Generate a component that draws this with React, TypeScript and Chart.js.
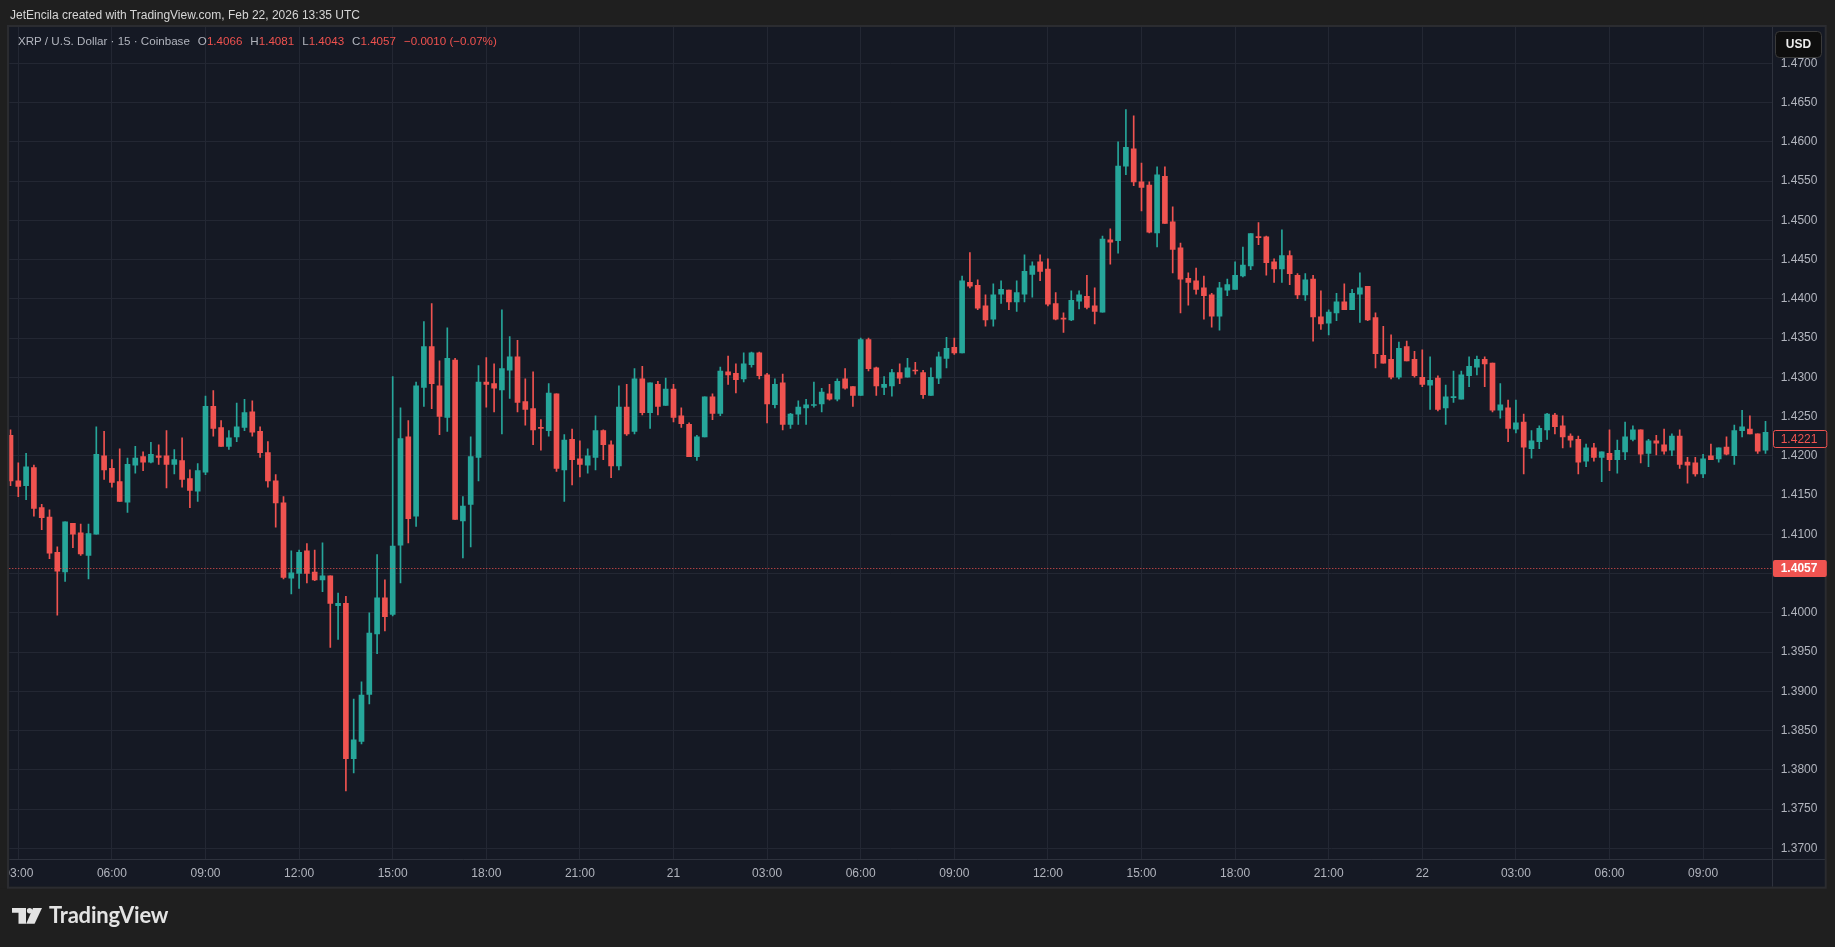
import React, { useEffect, useRef } from "react";
import { Chart, registerables } from "chart.js";

Chart.register(...registerables);

// ---------------- data (15-minute XRP/USD candles, Coinbase) ----------------
// bar index 0 = Feb 20 03:00 UTC, one index per 15 minutes; first bar is 02:45
const FIRST_BAR = -1;

const opens = [
  1.4226, 1.4168, 1.4162, 1.4185, 1.4134, 1.4122, 1.4077, 1.4052, 1.4114, 1.4102, 1.4073, 1.4100, 1.4200, 1.4184, 1.4167, 1.4141,
  1.4188, 1.4199, 1.4192, 1.4200, 1.4200, 1.4189, 1.4194, 1.4171, 1.4155, 1.4179, 1.4263, 1.4236, 1.4212, 1.4224, 1.4236, 1.4256,
  1.4231, 1.4204, 1.4168, 1.4140, 1.4044, 1.4050, 1.4079, 1.4052, 1.4042, 1.4047, 1.4009, 1.4012, 1.3814, 1.3836, 1.3896, 1.3973,
  1.4019, 1.3998, 1.4086, 1.4224, 1.4123, 1.4287, 1.4339, 1.4289, 1.4249, 1.4322, 1.4117, 1.4138, 1.4198, 1.4294, 1.4292, 1.4284,
  1.4309, 1.4326, 1.4269, 1.4260, 1.4236, 1.4232, 1.4279, 1.4182, 1.4221, 1.4196, 1.4188, 1.4198, 1.4232, 1.4214, 1.4187, 1.4262,
  1.4231, 1.4298, 1.4255, 1.4291, 1.4264, 1.4285, 1.4251, 1.4240, 1.4199, 1.4224, 1.4275, 1.4254, 1.4307, 1.4305, 1.4298, 1.4316,
  1.4331, 1.4303, 1.4265, 1.4293, 1.4240, 1.4253, 1.4261, 1.4264, 1.4266, 1.4279, 1.4272, 1.4298, 1.4288, 1.4277, 1.4348, 1.4312,
  1.4287, 1.4289, 1.4306, 1.4300, 1.4309, 1.4306, 1.4277, 1.4299, 1.4324, 1.4338, 1.4331, 1.4421, 1.4417, 1.4391, 1.4374, 1.4406,
  1.4411, 1.4396, 1.4406, 1.4431, 1.4447, 1.4438, 1.4394, 1.4375, 1.4373, 1.4397, 1.4403, 1.4391, 1.4383, 1.4475, 1.4474, 1.4569,
  1.4591, 1.4549, 1.4545, 1.4484, 1.4556, 1.4498, 1.4465, 1.4426, 1.4423, 1.4414, 1.4405, 1.4378, 1.4411, 1.4412, 1.4429, 1.4442,
  1.4479, 1.4479, 1.4447, 1.4438, 1.4455, 1.4430, 1.4405, 1.4425, 1.4377, 1.4369, 1.4382, 1.4396, 1.4386, 1.4406, 1.4416, 1.4376,
  1.4328, 1.4323, 1.4300, 1.4339, 1.4323, 1.4300, 1.4290, 1.4299, 1.4261, 1.4274, 1.4272, 1.4302, 1.4313, 1.4323, 1.4318, 1.4258,
  1.4261, 1.4234, 1.4243, 1.4209, 1.4218, 1.4233, 1.4252, 1.4238, 1.4225, 1.4221, 1.4193, 1.4210, 1.4198, 1.4203, 1.4195, 1.4205,
  1.4221, 1.4233, 1.4203, 1.4219, 1.4214, 1.4207, 1.4225, 1.4192, 1.4191, 1.4177, 1.4200, 1.4196, 1.4211, 1.4200, 1.4232, 1.4234,
  1.4228, 1.4207,
];

const highs = [
  1.4233, 1.4191, 1.4203, 1.4188, 1.4138, 1.4131, 1.4084, 1.4116, 1.4114, 1.4113, 1.4113, 1.4237, 1.4231, 1.4195, 1.4209, 1.4197,
  1.4212, 1.4205, 1.4217, 1.4214, 1.4232, 1.4208, 1.4223, 1.4182, 1.4190, 1.4276, 1.4283, 1.4245, 1.4232, 1.4267, 1.4272, 1.4270,
  1.4237, 1.4218, 1.4176, 1.4148, 1.4079, 1.4080, 1.4088, 1.4080, 1.4089, 1.4047, 1.4025, 1.4021, 1.3890, 1.3912, 1.4000, 1.4074,
  1.4042, 1.4301, 1.4261, 1.4245, 1.4294, 1.4371, 1.4394, 1.4321, 1.4363, 1.4324, 1.4148, 1.4224, 1.4315, 1.4325, 1.4317, 1.4386,
  1.4352, 1.4347, 1.4298, 1.4307, 1.4246, 1.4292, 1.4279, 1.4227, 1.4234, 1.4219, 1.4209, 1.4251, 1.4233, 1.4219, 1.4289, 1.4291,
  1.4311, 1.4314, 1.4293, 1.4295, 1.4299, 1.4291, 1.4261, 1.4242, 1.4226, 1.4275, 1.4279, 1.4313, 1.4327, 1.4317, 1.4331, 1.4332,
  1.4332, 1.4305, 1.4298, 1.4304, 1.4254, 1.4270, 1.4272, 1.4294, 1.4286, 1.4291, 1.4298, 1.4311, 1.4288, 1.4350, 1.4350, 1.4313,
  1.4301, 1.4310, 1.4317, 1.4324, 1.4319, 1.4309, 1.4312, 1.4332, 1.4351, 1.4350, 1.4429, 1.4459, 1.4424, 1.4405, 1.4419, 1.4423,
  1.4411, 1.4423, 1.4456, 1.4447, 1.4456, 1.4451, 1.4408, 1.4382, 1.4410, 1.4410, 1.4430, 1.4414, 1.4480, 1.4489, 1.4600, 1.4641,
  1.4633, 1.4573, 1.4549, 1.4568, 1.4568, 1.4517, 1.4471, 1.4433, 1.4439, 1.4429, 1.4407, 1.4421, 1.4425, 1.4447, 1.4466, 1.4483,
  1.4497, 1.4480, 1.4451, 1.4488, 1.4461, 1.4432, 1.4432, 1.4430, 1.4410, 1.4386, 1.4407, 1.4419, 1.4412, 1.4433, 1.4416, 1.4382,
  1.4365, 1.4354, 1.4345, 1.4346, 1.4333, 1.4335, 1.4326, 1.4302, 1.4290, 1.4308, 1.4308, 1.4326, 1.4327, 1.4326, 1.4318, 1.4292,
  1.4271, 1.4271, 1.4253, 1.4232, 1.4238, 1.4254, 1.4254, 1.4251, 1.4228, 1.4225, 1.4215, 1.4216, 1.4205, 1.4233, 1.4220, 1.4243,
  1.4238, 1.4233, 1.4221, 1.4226, 1.4234, 1.4228, 1.4233, 1.4198, 1.4198, 1.4202, 1.4215, 1.4210, 1.4224, 1.4239, 1.4258, 1.4251,
  1.4228, 1.4244,
];

const lows = [
  1.4162, 1.4148, 1.4144, 1.4123, 1.4106, 1.4069, 1.3997, 1.4040, 1.4083, 1.4073, 1.4043, 1.4100, 1.4170, 1.4160, 1.4142, 1.4128,
  1.4178, 1.4181, 1.4191, 1.4189, 1.4159, 1.4177, 1.4160, 1.4134, 1.4142, 1.4176, 1.4225, 1.4212, 1.4208, 1.4218, 1.4232, 1.4225,
  1.4198, 1.4160, 1.4109, 1.4043, 1.4024, 1.4031, 1.4038, 1.4041, 1.4027, 1.3956, 1.3966, 1.3773, 1.3796, 1.3833, 1.3884, 1.3948,
  1.3977, 1.3996, 1.4038, 1.4089, 1.4110, 1.4263, 1.4260, 1.4227, 1.4231, 1.4119, 1.4070, 1.4084, 1.4168, 1.4262, 1.4256, 1.4228,
  1.4273, 1.4256, 1.4239, 1.4214, 1.4207, 1.4225, 1.4180, 1.4142, 1.4163, 1.4173, 1.4178, 1.4182, 1.4195, 1.4172, 1.4182, 1.4226,
  1.4228, 1.4252, 1.4235, 1.4252, 1.4264, 1.4243, 1.4236, 1.4199, 1.4194, 1.4224, 1.4246, 1.4251, 1.4291, 1.4280, 1.4294, 1.4313,
  1.4298, 1.4242, 1.4261, 1.4233, 1.4235, 1.4240, 1.4240, 1.4262, 1.4256, 1.4271, 1.4270, 1.4285, 1.4263, 1.4277, 1.4308, 1.4277,
  1.4278, 1.4276, 1.4292, 1.4300, 1.4304, 1.4273, 1.4277, 1.4292, 1.4312, 1.4329, 1.4331, 1.4414, 1.4386, 1.4365, 1.4365, 1.4394,
  1.4386, 1.4384, 1.4396, 1.4402, 1.4423, 1.4391, 1.4373, 1.4357, 1.4372, 1.4387, 1.4387, 1.4368, 1.4383, 1.4444, 1.4458, 1.4558,
  1.4544, 1.4512, 1.4484, 1.4466, 1.4496, 1.4433, 1.4382, 1.4392, 1.4406, 1.4374, 1.4364, 1.4360, 1.4404, 1.4412, 1.4428, 1.4437,
  1.4469, 1.4430, 1.4421, 1.4421, 1.4418, 1.4400, 1.4398, 1.4346, 1.4361, 1.4354, 1.4372, 1.4386, 1.4386, 1.4370, 1.4372, 1.4312,
  1.4318, 1.4298, 1.4298, 1.4321, 1.4300, 1.4288, 1.4259, 1.4257, 1.4240, 1.4268, 1.4272, 1.4288, 1.4303, 1.4288, 1.4256, 1.4248,
  1.4218, 1.4229, 1.4177, 1.4197, 1.4209, 1.4221, 1.4228, 1.4210, 1.4211, 1.4177, 1.4186, 1.4193, 1.4167, 1.4181, 1.4178, 1.4195,
  1.4219, 1.4191, 1.4186, 1.4201, 1.4202, 1.4200, 1.4184, 1.4165, 1.4174, 1.4172, 1.4195, 1.4192, 1.4201, 1.4189, 1.4224, 1.4228,
  1.4203, 1.4203,
];

const closes = [
  1.4168, 1.4161, 1.4186, 1.4133, 1.4121, 1.4076, 1.4053, 1.4116, 1.4100, 1.4075, 1.4101, 1.4202, 1.4182, 1.4166, 1.4142, 1.4189,
  1.4197, 1.4192, 1.4202, 1.4198, 1.4189, 1.4195, 1.4170, 1.4156, 1.4181, 1.4263, 1.4235, 1.4212, 1.4223, 1.4237, 1.4255, 1.4230,
  1.4204, 1.4168, 1.4140, 1.4045, 1.4051, 1.4077, 1.4050, 1.4042, 1.4047, 1.4012, 1.4012, 1.3814, 1.3838, 1.3895, 1.3974, 1.4019,
  1.3995, 1.4085, 1.4222, 1.4120, 1.4289, 1.4339, 1.4292, 1.4250, 1.4324, 1.4119, 1.4136, 1.4199, 1.4294, 1.4291, 1.4286, 1.4311,
  1.4326, 1.4268, 1.4259, 1.4233, 1.4235, 1.4280, 1.4184, 1.4220, 1.4195, 1.4189, 1.4200, 1.4232, 1.4214, 1.4187, 1.4262, 1.4228,
  1.4298, 1.4255, 1.4293, 1.4263, 1.4285, 1.4249, 1.4241, 1.4199, 1.4224, 1.4275, 1.4254, 1.4308, 1.4303, 1.4297, 1.4317, 1.4331,
  1.4302, 1.4266, 1.4291, 1.4240, 1.4253, 1.4262, 1.4265, 1.4265, 1.4281, 1.4272, 1.4295, 1.4286, 1.4277, 1.4348, 1.4311, 1.4289,
  1.4291, 1.4306, 1.4299, 1.4312, 1.4308, 1.4278, 1.4300, 1.4326, 1.4337, 1.4331, 1.4423, 1.4416, 1.4388, 1.4373, 1.4405, 1.4412,
  1.4396, 1.4408, 1.4435, 1.4442, 1.4435, 1.4393, 1.4374, 1.4374, 1.4398, 1.4405, 1.4389, 1.4384, 1.4476, 1.4472, 1.4569, 1.4593,
  1.4549, 1.4542, 1.4485, 1.4558, 1.4496, 1.4463, 1.4425, 1.4421, 1.4412, 1.4404, 1.4378, 1.4414, 1.4418, 1.4430, 1.4443, 1.4483,
  1.4478, 1.4446, 1.4438, 1.4455, 1.4432, 1.4405, 1.4424, 1.4377, 1.4368, 1.4383, 1.4396, 1.4386, 1.4407, 1.4414, 1.4373, 1.4330,
  1.4318, 1.4300, 1.4337, 1.4321, 1.4302, 1.4291, 1.4296, 1.4259, 1.4275, 1.4275, 1.4303, 1.4314, 1.4323, 1.4317, 1.4258, 1.4265,
  1.4235, 1.4242, 1.4211, 1.4219, 1.4235, 1.4253, 1.4237, 1.4224, 1.4220, 1.4192, 1.4210, 1.4198, 1.4205, 1.4195, 1.4207, 1.4224,
  1.4233, 1.4202, 1.4219, 1.4216, 1.4206, 1.4225, 1.4189, 1.4188, 1.4177, 1.4196, 1.4195, 1.4210, 1.4202, 1.4232, 1.4237, 1.4228,
  1.4206, 1.4230,
];

// time-axis ticks: bar index -> label
const timeTickBars = [0, 12, 24, 36, 48, 60, 72, 84, 96, 108, 120, 132, 144, 156, 168, 180, 192, 204, 216];
const timeTickLabels = [
  "03:00", "06:00", "09:00", "12:00", "15:00", "18:00", "21:00", "21", "03:00", "06:00",
  "09:00", "12:00", "15:00", "18:00", "21:00", "22", "03:00", "06:00", "09:00",
];

// price axis
const PRICE_MIN = 1.368594;
const PRICE_MAX = 1.474624;
const PRICE_STEP = 0.005;
const LAST_PRICE = 1.4057;
const MARKED_PRICE = 1.4221;

// header / legend texts
const HEADER_TEXT = "JetEncila created with TradingView.com, Feb 22, 2026 13:35 UTC";
const SYMBOL_TEXT = "XRP / U.S. Dollar · 15 · Coinbase";
const OHLC_KEYS = ["O", "H", "L", "C"];
const OHLC_VALUES = ["1.4066", "1.4081", "1.4043", "1.4057"];
const CHANGE_TEXT = "−0.0010 (−0.07%)";

// ---------------- layout / style ----------------
const W = 1835;
const H = 947;
const PLOT_L = 9.3;
const PLOT_R = 1771.7;
const PLOT_T = 27;
const PLOT_B = 859.3;
const FRAME_R = 1825;
const FRAME_B = 886.7;
const BAR_PX = 7.8;
const BAR0_PX = 18.3;

const OUTER_BG = "#1f1f1f";
const PLOT_BG = "#151924";
const GRID = "#232733";
const SEP = "#2e323d";
const FRAME = "#2b2c30";
const TEXT = "#b2b5be";
const UP = "#26a69a";
const DOWN = "#ef5350";
const FONT = "'Liberation Sans', Arial, sans-serif";

export default function App() {
  const ref = useRef<HTMLCanvasElement | null>(null);

  useEffect(() => {
    const canvas = ref.current;
    if (!canvas) return;
    const xs = opens.map((_, k) => FIRST_BAR + k);
    const colors = closes.map((c, k) => (c >= opens[k] ? UP : DOWN));

    const xMin = (PLOT_L - BAR0_PX) / BAR_PX;
    const xMax = (PLOT_R - BAR0_PX) / BAR_PX;

    const overlay = {
      id: "tvOverlay",
      beforeDraw(chart: any) {
        const ctx = chart.ctx;
        ctx.save();
        ctx.fillStyle = OUTER_BG;
        ctx.fillRect(0, 0, W, H);
        ctx.fillStyle = PLOT_BG;
        ctx.fillRect(PLOT_L, PLOT_T, FRAME_R - PLOT_L, FRAME_B - PLOT_T);
        ctx.restore();
      },
      afterDatasetsDraw(chart: any) {
        const ctx = chart.ctx;
        const y = Math.round(chart.scales.y.getPixelForValue(LAST_PRICE)) + 0.5;
        ctx.save();
        ctx.strokeStyle = DOWN;
        ctx.lineWidth = 1;
        ctx.setLineDash([1, 2]);
        ctx.beginPath();
        ctx.moveTo(chart.chartArea.left, y);
        ctx.lineTo(chart.chartArea.right, y);
        ctx.stroke();
        ctx.restore();
      },
      afterDraw(chart: any) {
        const ctx = chart.ctx;
        const ys = chart.scales.y;
        ctx.save();
        // clip overflow of first time label at the left frame edge
        ctx.fillStyle = OUTER_BG;
        ctx.fillRect(0, PLOT_T, PLOT_L - 0.3, FRAME_B - PLOT_T + 2);
        // separators
        ctx.strokeStyle = SEP;
        ctx.lineWidth = 1;
        ctx.beginPath();
        ctx.moveTo(Math.round(PLOT_R) + 0.5, PLOT_T);
        ctx.lineTo(Math.round(PLOT_R) + 0.5, FRAME_B);
        ctx.moveTo(PLOT_L, Math.round(PLOT_B) + 0.5);
        ctx.lineTo(FRAME_R, Math.round(PLOT_B) + 0.5);
        ctx.stroke();
        // frame
        ctx.strokeStyle = FRAME;
        ctx.lineWidth = 2;
        ctx.strokeRect(Math.round(PLOT_L) - 1, PLOT_T - 1, FRAME_R - PLOT_L + 2, FRAME_B - PLOT_T + 2);

        // marked price label (outlined)
        const ym = ys.getPixelForValue(MARKED_PRICE);
        ctx.fillStyle = PLOT_BG;
        ctx.strokeStyle = DOWN;
        ctx.lineWidth = 1;
        ctx.beginPath();
        ctx.roundRect(Math.round(PLOT_R) + 1.5, Math.round(ym) - 8.5, FRAME_R - PLOT_R, 17, 2);
        ctx.fill();
        ctx.stroke();
        ctx.fillStyle = DOWN;
        ctx.font = `12px ${FONT}`;
        ctx.textBaseline = "middle";
        ctx.textAlign = "left";
        ctx.fillText(MARKED_PRICE.toFixed(4), PLOT_R + 9, ym + 0.5);

        // last price label (filled)
        const yl = ys.getPixelForValue(LAST_PRICE);
        ctx.fillStyle = DOWN;
        ctx.beginPath();
        ctx.roundRect(Math.round(PLOT_R) + 1, Math.round(yl) - 8, FRAME_R - PLOT_R + 0.5, 17, 2);
        ctx.fill();
        ctx.fillStyle = "#ffffff";
        ctx.font = `bold 12px ${FONT}`;
        ctx.fillText(LAST_PRICE.toFixed(4), PLOT_R + 9, yl + 0.5);

        // currency box
        ctx.fillStyle = "#0e0e0e";
        ctx.strokeStyle = "#3a3a3a";
        ctx.lineWidth = 1;
        ctx.beginPath();
        ctx.roundRect(1775.5, 31.5, 46, 26, 4);
        ctx.fill();
        ctx.stroke();
        ctx.fillStyle = "#ededed";
        ctx.font = `bold 12px ${FONT}`;
        ctx.textAlign = "center";
        ctx.fillText("USD", 1798.5, 44.5);
        ctx.restore();
      },
    };

    const chart = new Chart(canvas, {
      type: "bar",
      data: {
        datasets: [
          {
            label: "wick",
            data: xs.map((x, k) => ({ x, y: [lows[k], highs[k]] })) as any,
            backgroundColor: colors,
            barThickness: 1,
            grouped: false,
            borderWidth: 0,
            order: 2,
          },
          {
            label: "body",
            data: xs.map((x, k) => ({ x, y: [opens[k], closes[k]] })) as any,
            backgroundColor: colors,
            barThickness: 5,
            grouped: false,
            borderWidth: 0,
            minBarLength: 1,
            order: 1,
          },
        ],
      },
      options: {
        animation: false,
        responsive: false,
        events: [],
        layout: {
          padding: { left: PLOT_L, right: W - FRAME_R, top: PLOT_T, bottom: H - FRAME_B },
        },
        plugins: { legend: { display: false }, tooltip: { enabled: false }, title: { display: false } },
        scales: {
          x: {
            type: "linear",
            min: xMin,
            max: xMax,
            offset: false,
            afterBuildTicks: (s: any) => {
              s.ticks = timeTickBars.map((v) => ({ value: v }));
            },
            afterFit: (s: any) => {
              s.height = FRAME_B - PLOT_B;
              s.paddingLeft = 0;
              s.paddingRight = 0;
            },
            grid: { color: GRID, drawTicks: false, lineWidth: 1, offset: false },
            border: { display: false },
            ticks: {
              autoSkip: false,
              maxRotation: 0,
              padding: 7,
              color: TEXT,
              font: { family: FONT, size: 12 },
              callback: (v: any) => {
                const i = timeTickBars.indexOf(Number(v));
                return i >= 0 ? timeTickLabels[i] : "";
              },
            },
          },
          y: {
            type: "linear",
            position: "right",
            min: PRICE_MIN,
            max: PRICE_MAX,
            afterFit: (s: any) => {
              s.width = FRAME_R - PLOT_R;
              s.paddingTop = 0;
              s.paddingBottom = 0;
            },
            grid: { color: GRID, drawTicks: false, lineWidth: 1 },
            border: { display: false },
            ticks: {
              stepSize: PRICE_STEP,
              includeBounds: false,
              padding: 9,
              color: TEXT,
              font: { family: FONT, size: 12 },
              callback: (v: any) => Number(v).toFixed(4),
            },
          },
        },
      } as any,
      plugins: [overlay],
    });
    return () => chart.destroy();
  }, []);

  const redStyle = { color: "#f0524f" };
  return (
    <div style={{ position: "fixed", left: 0, top: 0, width: W, height: H, background: OUTER_BG, overflow: "hidden" }}>
      <canvas ref={ref} width={W} height={H} style={{ position: "absolute", left: 0, top: 0, width: W, height: H }} />
      <div
        style={{
          position: "absolute",
          left: 10,
          top: 6,
          fontFamily: FONT,
          fontSize: 12,
          color: "#d6d6d6",
          whiteSpace: "nowrap",
          lineHeight: "18px",
        }}
      >
        {HEADER_TEXT}
      </div>
      <div
        style={{
          position: "absolute",
          left: 18,
          top: 32,
          fontFamily: FONT,
          fontSize: 11.6,
          color: TEXT,
          whiteSpace: "nowrap",
          lineHeight: "18px",
        }}
      >
        <span>{SYMBOL_TEXT}</span>
        {OHLC_KEYS.map((k, i) => (
          <span key={k} style={{ marginLeft: 8 }}>
            {k}
            <span style={redStyle}>{OHLC_VALUES[i]}</span>
          </span>
        ))}
        <span style={{ ...redStyle, marginLeft: 8 }}>{CHANGE_TEXT}</span>
      </div>
      <svg
        style={{ position: "absolute", left: 11.7, top: 908.3 }}
        width={31}
        height={17}
        viewBox="0 0 31 17"
      >
        <path d="M0 0 H14 V15.7 H6.5 V4.8 H0 Z" fill="#e3e3e3" />
        <circle cx={17.6} cy={2.7} r={2.7} fill="#e3e3e3" />
        <path d="M21 0 H30 L22.6 15.7 H14.2 Z" fill="#e3e3e3" />
      </svg>
      <div
        style={{
          position: "absolute",
          left: 49,
          top: 902,
          fontFamily: "Lato, 'Noto Sans', sans-serif",
          fontWeight: 700,
          fontSize: 22,
          color: "#e3e3e3",
          whiteSpace: "nowrap",
          lineHeight: "26px",
          letterSpacing: -0.2,
        }}
      >
        TradingView
      </div>
    </div>
  );
}
